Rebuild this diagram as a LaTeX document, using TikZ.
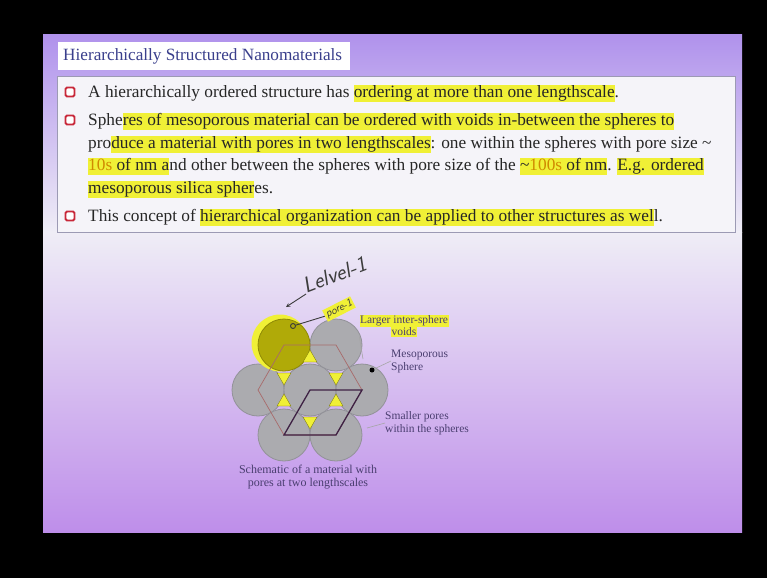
\documentclass[tikz,border=0pt]{standalone}
\usepackage{fontspec}
\setmainfont{Liberation Serif}
\usepackage{tikz}
\usetikzlibrary{arrows}
\usetikzlibrary{shapes.geometric}

\definecolor{slidetop}{HTML}{B092EC}
\definecolor{slidemid}{HTML}{EFEDF6}
\definecolor{slidelow}{HTML}{DCCDF2}
\definecolor{slidebot}{HTML}{BE8EEA}
\definecolor{boxfill}{HTML}{F5F4F9}
\definecolor{boxedge}{HTML}{9C9AB4}
\definecolor{titleblue}{HTML}{3A3F8C}
\definecolor{bodyink}{HTML}{262626}
\definecolor{hlyellow}{HTML}{F0F036}
\definecolor{numorange}{HTML}{D08A00}
\definecolor{bulletred}{HTML}{C8283A}
\definecolor{spheregrey}{HTML}{ABABAF}
\definecolor{sphereedge}{HTML}{929298}
\definecolor{olivesphere}{HTML}{B0AA08}
\definecolor{hexline}{HTML}{A86A6A}
\definecolor{cellline}{HTML}{3E2244}
\definecolor{labelink}{HTML}{4A3E70}
\definecolor{handink}{HTML}{3C3C3C}

\newcommand{\hilite}[1]{{\setlength{\fboxsep}{0pt}\colorbox{hlyellow}{\rule[-4.5pt]{0pt}{16.5pt}#1}}}
\newcommand{\lblhilite}[1]{{\setlength{\fboxsep}{0.5pt}\colorbox{hlyellow}{#1}}}
\newcommand{\numtxt}[1]{\textcolor{numorange}{#1}}

\begin{document}
\begin{tikzpicture}[x=1pt,y=-1pt,
		body text/.style={anchor=base west,inner sep=0pt,text=bodyink,
			font=\fontsize{17.3}{20}\selectfont},
		bullet box/.style={rectangle,rounded corners=1.5pt,draw=bulletred,
			line width=1.8pt,fill=white,minimum size=9pt,inner sep=0pt},
		sphere/.style={circle,minimum size=52pt,inner sep=0pt,
			fill=spheregrey,draw=sphereedge,line width=0.8pt},
		void mark/.style={regular polygon,regular polygon sides=3,
			minimum size=16pt,inner sep=0pt,fill=hlyellow,draw=olivesphere!70!black,line width=0.3pt},
		label text/.style={inner sep=0pt,text=labelink,
			font=\fontsize{11.5}{13}\selectfont},
		pointer/.style={draw=gray!70,line width=0.6pt},
		hand text/.style={inner sep=0pt,text=handink,font=\sffamily\itshape}]

	% slide background
	\fill[black] (0,0) rectangle (767,578);
	\shade[top color=slidetop,bottom color=slidemid] (43,35) rectangle (742,232);
	\shade[top color=slidemid,middle color=slidelow,bottom color=slidebot] (43,232) rectangle (742,532);

	% title and text box
	\fill[white] (58,42) rectangle (350,70);
	\node[anchor=west,inner sep=0pt,text=titleblue,font=\fontsize{17.2}{20}\selectfont] (title) at (63,56) {Hierarchically Structured Nanomaterials};
	\draw[draw=boxedge,fill=boxfill,line width=0.8pt] (57,76) rectangle (735,232);

	\node[bullet box] (b1) at (70,92) {};
	\node[bullet box] (b2) at (70,120) {};
	\node[bullet box] (b3) at (70,216) {};

	\node[body text] (l1) at (88,97) {A hierarchically ordered structure has \hilite{ordering at more than one lengthscale}.};
	\node[body text] (l2) at (88,125) {Sphe\hilite{res of mesoporous material can be ordered with voids in-between the spheres to}};
	\node[body text] (l3) at (88,148) {pro\hilite{duce a material with pores in two lengthscales}: one within the spheres with pore size \textasciitilde};
	\node[body text] (l4) at (88,170) {\hilite{\numtxt{10s} of nm a}nd other between the spheres with pore size of the \hilite{\textasciitilde\numtxt{100s} of nm}. \hilite{E.g. ordered}};
	\node[body text] (l5) at (88,193) {\hilite{mesoporous silica spher}es.};
	\node[body text] (l6) at (88,221) {This concept of \hilite{hierarchical organization can be applied to other structures as wel}l.};

	% packed spheres
	\foreach \n/\x/\y in {s2/336/345,s3/258/390,s4/310/390,s5/362/390,s6/284/435,s7/336/435}
		\node[sphere] (\n) at (\x,\y) {};
	\fill[hlyellow] (280,343) circle (28.5pt);
	\node[sphere,fill=olivesphere,draw=olivesphere!80!black] (s1) at (284,345) {};

	\draw[hexline,line width=0.7pt] (s1.center) -- (s2.center) -- (s5.center) -- (s7.center) -- (s6.center) -- (s3.center) -- cycle;
	\draw[cellline,line width=1.3pt] (s4.center) -- (s5.center) -- (s7.center) -- (s6.center) -- cycle;

	\node[void mark] (v1) at (310,358) {};
	\node[void mark,shape border rotate=180] (v2) at (284,377) {};
	\node[void mark,shape border rotate=180] (v3) at (336,377) {};
	\node[void mark] (v4) at (284,402) {};
	\node[void mark] (v5) at (336,402) {};
	\node[void mark,shape border rotate=180] (v6) at (310,421) {};

	% labels
	\node[label text,align=center] (voids) at (404,326) {\lblhilite{Larger inter-sphere}\\[-1pt]\lblhilite{voids}};
	\node[label text,align=left,anchor=west] (meso) at (391,361) {Mesoporous\\Sphere};
	\node[label text,align=left,anchor=west] (small) at (385,423) {Smaller pores\\within the spheres};
	\node[circle,fill=black,inner sep=0pt,minimum size=5pt] (mdot) at (372,370) {};
	\coordinate (vend) at (363,359);
	\coordinate (send) at (367,428);
	\draw[pointer] (voids.south west) -- (vend);
	\draw[pointer] (mdot) -- (meso.west);
	\draw[pointer] (small.west) -- (send);

	\node[label text,align=center,font=\fontsize{12}{13.5}\selectfont] (caption) at (308,477) {Schematic of a material with\\pores at two lengthscales};

	% handwritten notes
	\node[hand text,rotate=21,anchor=base west,font=\sffamily\itshape\fontsize{22}{22}\selectfont] (level) at (306,294) {Lelvel-1};
	\coordinate (lvtip) at (286,307);
	\draw[->,>=stealth,handink,line width=0.9pt] (level.base west) -- (lvtip);
	\node[hand text,rotate=27,fill=hlyellow,inner sep=1.5pt,font=\sffamily\itshape\fontsize{11}{11}\selectfont] (pore) at (339,309) {pore-1};
	\node[circle,draw=handink,line width=0.9pt,minimum size=5pt,inner sep=0pt] (pdot) at (293,326) {};
	\draw[handink,line width=0.9pt] (pdot) -- (pore.west);
\end{tikzpicture}
\end{document}
